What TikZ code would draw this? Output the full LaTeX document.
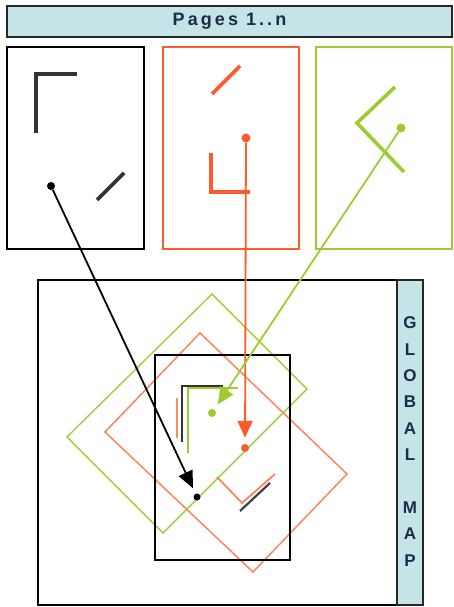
\documentclass[tikz,border=0pt]{standalone}
\usepackage{fontspec}
\setmainfont{Liberation Sans}
\usetikzlibrary{arrows.meta,positioning}

\definecolor{pagered}{HTML}{FF5A2A}
\definecolor{pagegreen}{HTML}{9CCC2E}
\definecolor{barblue}{HTML}{C4E4E8}
\definecolor{bartext}{HTML}{1E2A48}

\begin{document}
\begin{tikzpicture}[x=1pt,y=-1pt,
  pagebox/.style={draw,line width=2pt,minimum width=137pt,minimum height=202pt,inner sep=0pt},
  barbox/.style={draw=black!85,line width=2pt,fill=barblue,inner sep=0pt},
  inkline/.style={line width=3.6pt},
  mapline/.style={line width=1.5pt},
  dotnode/.style={circle,inner sep=0pt,minimum size=8pt},
  linkarrow/.style={line width=1.8pt,shorten >=6pt,-{Triangle[length=17pt,width=15pt]}}]
\useasboundingbox (0,0) rectangle (453,607);

% Header bar
\node[barbox,minimum width=445pt,minimum height=31pt] (header) at (229.5,21.5)
  {\fontsize{18}{18}\selectfont\bfseries\addfontfeature{LetterSpace=17}\color{bartext}Pages 1..n};

% Pages
\node[pagebox,draw=black] (p1) at (75.5,148) {};
\node[pagebox,draw=pagered,minimum width=136pt] (p2) at (231,148) {};
\node[pagebox,draw=pagegreen,minimum width=136pt] (p3) at (384,148) {};

% Page 1 strokes
\draw[inkline,black!80] (36,133) -- (36,74) -- (77,74);
\draw[inkline,black!80] (97,200) -- (124,173);
\node[dotnode,fill=black] (d1) at (51,186) {};

% Page 2 strokes
\draw[inkline,pagered] (212,94) -- (240,66);
\draw[inkline,pagered] (211,153) -- (211,192) -- (250,192);
\node[dotnode,fill=pagered,minimum size=9pt] (d2) at (246,138) {};

% Page 3 strokes
\draw[inkline,pagegreen] (395,87) -- (357,123) -- (404,172);
\node[dotnode,fill=pagegreen,minimum size=9pt] (d3) at (401,128) {};

% Global map
\node[pagebox,minimum width=359pt,minimum height=325pt] (gmap) at (217.5,442.5) {};
\node[barbox,minimum width=26pt,minimum height=325pt] (side) at (410,442.5) {};
\node[align=center,font=\fontsize{17}{26.4}\selectfont\bfseries,text=bartext] (sidetext) at (410,441.5)
  {G\\L\\O\\B\\A\\L\\\mbox{}\\M\\A\\P};

% Placed pages
\draw[mapline,pagegreen!90] (212,294) -- (307,389) -- (163,533) -- (67,437) -- cycle;
\draw[mapline,pagered!75] (200,333) -- (347,474) -- (253,572) -- (105,432) -- cycle;
\node[pagebox,minimum width=135pt,minimum height=205pt] (frame) at (222.5,457.5) {};

% Strokes in the map
\draw[mapline,pagered!70,line width=2.6pt] (177,398) -- (177,438);
\draw[mapline,pagered!75,line width=1.8pt] (217,477) -- (242,503) -- (275,474);
\draw[inkline,black!80,line width=2.8pt] (182,442) -- (182,386) -- (223,386);
\draw[inkline,black!75,line width=2.2pt] (240,511) -- (270,483);
\draw[inkline,pagegreen,line width=2.8pt] (188,453) -- (188,388) -- (238,388);
\node[dotnode,fill=black,minimum size=7pt] (m1) at (197,497) {};
\node[dotnode,fill=pagered] (m2) at (245,448) {};
\node[dotnode,fill=pagegreen] (m3) at (212,413) {};

% Mapping arrows
\draw[linkarrow,black] (d1) -- (m1);
\draw[linkarrow,pagered] (d2) -- (m2);
\draw[linkarrow,pagegreen] (d3) -- (m3);
\end{tikzpicture}
\end{document}
